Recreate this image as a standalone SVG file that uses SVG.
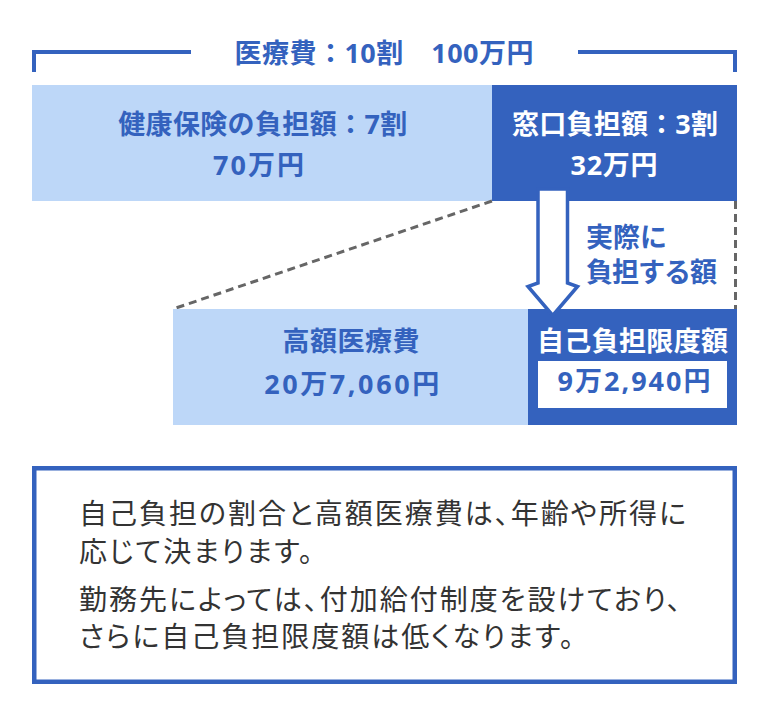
<svg xmlns="http://www.w3.org/2000/svg" width="769" height="716" viewBox="0 0 769 716">
<style>
.b{font-family:"Noto Sans","Noto Sans CJK JP",sans-serif;font-weight:700;font-size:27px;fill:#3462BE}
.w{fill:#ffffff}
.t{font-family:"Noto Sans CJK JP","Noto Sans",sans-serif;font-weight:400;font-size:28px;fill:#333333;font-feature-settings:"palt";letter-spacing:2px}
.light{fill:#BDD7F8}
.dark{fill:#3462BE}
.dash{fill:none;stroke:#666666;stroke-width:3;stroke-dasharray:8 5}
.brk{fill:none;stroke:#3462BE;stroke-width:4}
</style>
<rect width="769" height="716" fill="#ffffff"/>
<g id="bracket">
<polyline class="brk" points="34,72 34,52 191,52"/>
<polyline class="brk" points="578,52 735,52 735,72"/>
<text class="b" x="384" y="62.7" font-size="25.5" text-anchor="middle" textLength="299" lengthAdjust="spacing">医療費：10割　100万円</text>
</g>
<g id="insurance">
<rect class="light" x="32" y="85" width="460" height="116"/>
<text class="b" x="262.7" y="133.6" text-anchor="middle" textLength="289" lengthAdjust="spacing">健康保険の負担額：7割</text>
<text class="b" x="258.5" y="174.8" text-anchor="middle" textLength="91" lengthAdjust="spacing">70万円</text>
</g>
<g id="window">
<rect class="dark" x="492" y="85" width="245" height="116"/>
<text class="b w" x="615" y="133.6" text-anchor="middle" textLength="206" lengthAdjust="spacing">窓口負担額：3割</text>
<text class="b w" x="614" y="174.8" text-anchor="middle" textLength="87" lengthAdjust="spacing">32万円</text>
</g>
<g id="connectors">
<line class="dash" x1="492" y1="201" x2="173" y2="309"/>
<line class="dash" x1="735.5" y1="201" x2="735.5" y2="309"/>
</g>
<g id="highcost">
<rect class="light" x="173" y="309" width="355" height="116"/>
<text class="b" x="351" y="350.6" text-anchor="middle" textLength="137" lengthAdjust="spacing">高額医療費</text>
<text class="b" x="351.7" y="393.6" text-anchor="middle" textLength="175" lengthAdjust="spacing">20万7,060円</text>
</g>
<g id="limit">
<rect class="dark" x="528" y="309" width="209" height="116"/>
<rect x="538" y="361" width="189" height="47" fill="#ffffff"/>
<text class="b w" x="632.5" y="351.3" text-anchor="middle" textLength="191" lengthAdjust="spacing">自己負担限度額</text>
<text class="b" x="634" y="391.3" text-anchor="middle" textLength="153" lengthAdjust="spacing">9万2,940円</text>
</g>
<g id="arrow">
<polygon points="538,189 567.5,189 567.5,283 577.5,286.5 552.75,315.5 528,286.5 538,283" fill="#ffffff" stroke="#3462BE" stroke-width="3.5" stroke-linejoin="miter"/>
</g>
<g id="actual">
<text class="b" x="586" y="247.4" font-size="26">実際に</text>
<text class="b" x="586" y="281.6" font-size="26" textLength="131" lengthAdjust="spacing">負担する額</text>
</g>
<g id="note">
<rect x="34.25" y="468.25" width="700.5" height="213.5" fill="#ffffff" stroke="#3462BE" stroke-width="4.5"/>
<text class="t" x="79" y="523.6">自己負担の割合と高額医療費は、年齢や所得に</text>
<text class="t" x="79" y="562.3">応じて決まります。</text>
<text class="t" x="79" y="609.6">勤務先によっては、付加給付制度を設けており、</text>
<text class="t" x="79" y="646.6">さらに自己負担限度額は低くなります。</text>
</g>
</svg>
